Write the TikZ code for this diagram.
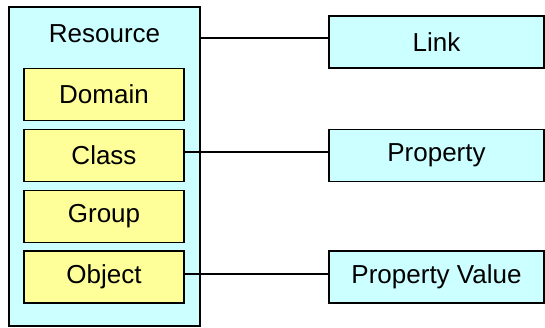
\documentclass[tikz,border=0pt]{standalone}
\usepackage{fontspec}
\setmainfont{Liberation Sans}
\definecolor{cyanfill}{HTML}{CCFFFF}
\definecolor{yelfill}{HTML}{FFFF99}
\begin{document}
\begin{tikzpicture}[x=1pt,y=-1pt,
  box/.style={draw=black,line width=1.4pt,rectangle,inner sep=0pt,font=\fontsize{26}{30}\selectfont},
  cbox/.style={box,fill=cyanfill,minimum width=215pt,minimum height=52pt},
  ybox/.style={box,fill=yelfill,minimum width=160pt,minimum height=52pt},
  conn/.style={line width=1.4pt}]
\useasboundingbox (0,0) rectangle (545,328);
\node[box,fill=cyanfill,minimum width=191pt,minimum height=319pt] (res) at (104.5,166.5) {};
\node[font=\fontsize{26}{30}\selectfont] (resl) at (104.5,34) {Resource};
\node[ybox] (dom) at (104,94.5) {Domain};
\node[ybox] (cls) at (104,155.5) {Class};
\node[ybox] (grp) at (104,216.5) {Group};
\node[ybox] (obj) at (104,277) {Object};
\node[cbox] (lnk) at (436.5,42) {Link};
\node[cbox] (prop) at (436.5,155.5) {Property};
\node[cbox] (pval) at (436.5,277) {Property Value};
\draw[conn] (res.east |- 0,38) -- (lnk.west |- 0,38);
\draw[conn] (cls.east |- 0,152) -- (prop.west |- 0,152);
\draw[conn] (obj.east |- 0,274) -- (pval.west |- 0,274);
\end{tikzpicture}
\end{document}
